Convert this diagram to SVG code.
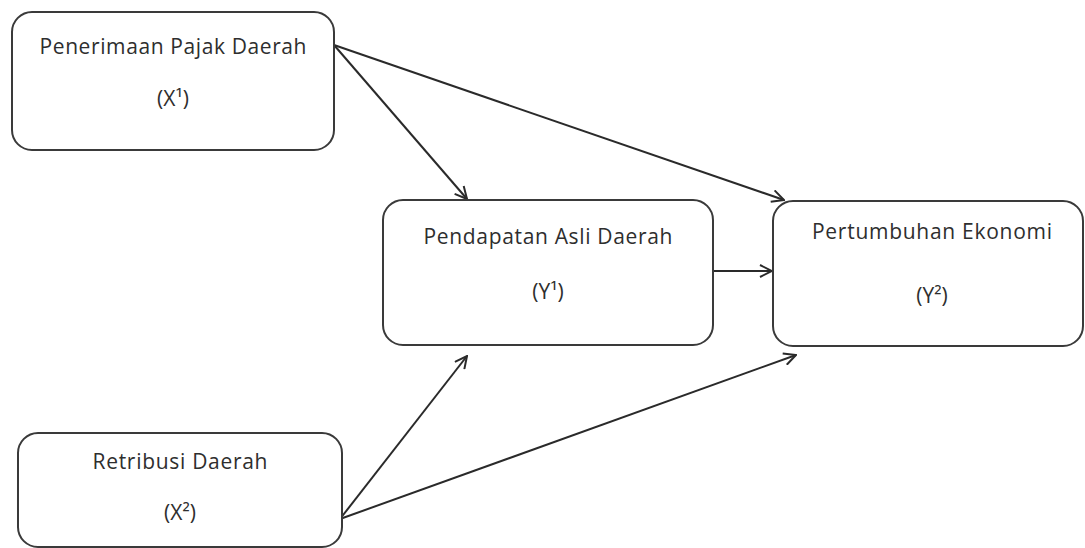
<svg xmlns="http://www.w3.org/2000/svg" width="1085" height="548" viewBox="0 0 1085 548">
  <style>
    .box { fill: #ffffff; stroke: #3a3a3a; stroke-width: 2; }
    .lbl { font-family: "Open Sans", "Noto Sans", "DejaVu Sans", sans-serif; font-size: 21px; font-weight: 500; fill: #2e2e2e; text-anchor: middle; }
    .conn { stroke: #2a2a2a; stroke-width: 2; fill: none; marker-end: url(#arr); }
  </style>
  <defs>
    <marker id="arr" viewBox="0 0 14 14" refX="13" refY="7" markerWidth="14" markerHeight="14" markerUnits="userSpaceOnUse" orient="auto">
      <path d="M1,1 L13,7 L1,13" fill="none" stroke="#2a2a2a" stroke-width="2"/>
    </marker>
  </defs>
  <rect width="1085" height="548" fill="#ffffff"/>
  <g id="connectors">
    <line class="conn" x1="334" y1="45" x2="467" y2="199"/>
    <line class="conn" x1="334" y1="45" x2="784" y2="200"/>
    <line class="conn" x1="713" y1="271" x2="772" y2="271"/>
    <line class="conn" x1="340" y1="519" x2="467" y2="356"/>
    <line class="conn" x1="340" y1="519" x2="796" y2="355"/>
  </g>
  <g id="node-x1">
    <rect class="box" x="12" y="12" width="322" height="138" rx="20" ry="20"/>
    <text class="lbl" x="173" y="54" textLength="267" lengthAdjust="spacing">Penerimaan Pajak Daerah</text>
    <text class="lbl" x="173" y="106">(X¹)</text>
  </g>
  <g id="node-y1">
    <rect class="box" x="383" y="200" width="330" height="145" rx="20" ry="20"/>
    <text class="lbl" x="548" y="244" textLength="249" lengthAdjust="spacing">Pendapatan Asli Daerah</text>
    <text class="lbl" x="548" y="299">(Y¹)</text>
  </g>
  <g id="node-y2">
    <rect class="box" x="773" y="201" width="310" height="145" rx="20" ry="20"/>
    <text class="lbl" x="932" y="239" textLength="240" lengthAdjust="spacing">Pertumbuhan Ekonomi</text>
    <text class="lbl" x="932" y="303">(Y²)</text>
  </g>
  <g id="node-x2">
    <rect class="box" x="18" y="433" width="324" height="114" rx="20" ry="20"/>
    <text class="lbl" x="180" y="469" textLength="175" lengthAdjust="spacing">Retribusi Daerah</text>
    <text class="lbl" x="180" y="520">(X²)</text>
  </g>
</svg>
